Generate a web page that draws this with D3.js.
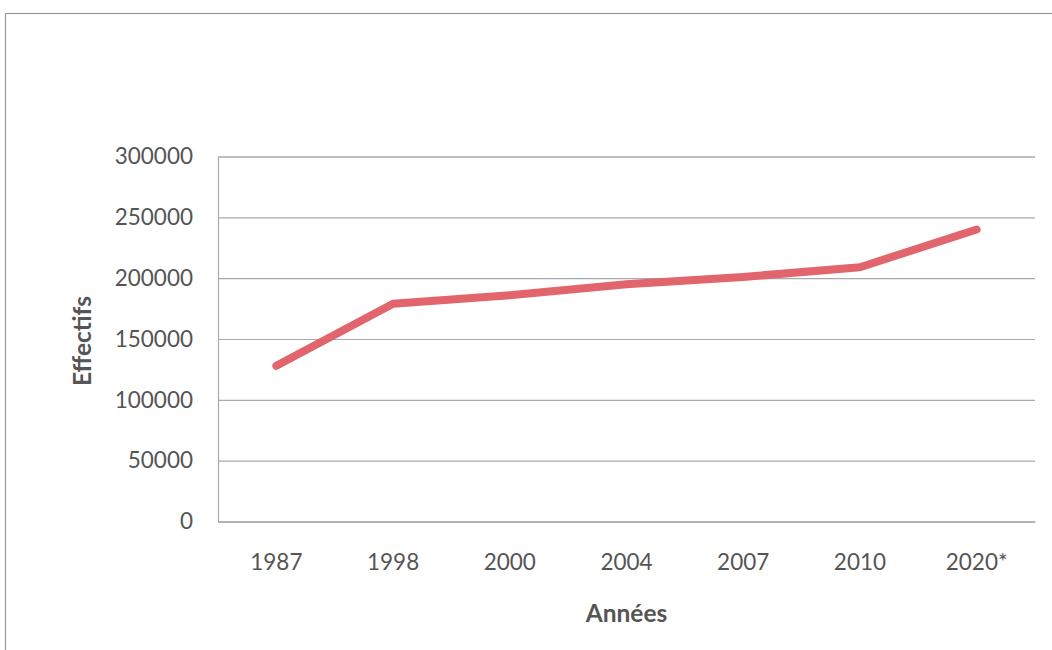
<!DOCTYPE html>
<html>
<head>
<meta charset="utf-8">
<script src="https://cdn.jsdelivr.net/npm/d3@7"></script>
<style>
  html, body { margin: 0; padding: 0; background: #fff; }
  svg { display: block; }
</style>
</head>
<body>
<svg id="chart" width="1052" height="650"></svg>
<script>
// Effectifs par année (2020* = projection)
const years = ["1987", "1998", "2000", "2004", "2007", "2010", "2020*"];
const effectifs = [128000, 179000, 186000, 195000, 201000, 209000, 240000];
const yTicks = [0, 50000, 100000, 150000, 200000, 250000, 300000];

const svg = d3.select("#chart");
const W = 1052, H = 650;
const margin = { left: 218, right: 17, top: 156.5, bottom: 128.5 };
const plotW = W - margin.left - margin.right;
const plotH = H - margin.top - margin.bottom;

const font = "Lato, 'Open Sans', sans-serif";
const textColor = "#555555";
const gridColor = "#a6a9ad";

// outer chart frame
svg.append("rect")
  .attr("x", 5.5).attr("y", 13.5)
  .attr("width", W + 10).attr("height", H + 10)
  .attr("fill", "none")
  .attr("stroke", "#9a9a9a")
  .attr("stroke-width", 1.2);

const g = svg.append("g").attr("transform", `translate(${margin.left},${margin.top})`);

const x = d3.scaleBand().domain(years).range([0, plotW]).padding(0);
const y = d3.scaleLinear().domain([0, 300000]).range([plotH, 0]);

// horizontal gridlines and y labels
const yAxis = d3.axisLeft(y)
  .tickValues(yTicks)
  .tickSize(-plotW)
  .tickPadding(25)
  .tickFormat(d3.format("d"));
const ya = g.append("g").call(yAxis);
ya.select(".domain").attr("stroke", gridColor).attr("stroke-width", 1.2);
ya.selectAll(".tick line").attr("stroke", gridColor).attr("stroke-width", 1.2);
ya.selectAll(".tick text")
  .attr("font-family", font).attr("font-size", 22.5)
  .attr("fill", textColor);

// x axis labels
const xAxis = d3.axisBottom(x).tickSize(0).tickPadding(33);
const xa = g.append("g").attr("transform", `translate(0,${plotH})`).call(xAxis);
xa.select(".domain").attr("stroke", gridColor).attr("stroke-width", 1.2);
xa.selectAll(".tick text")
  .attr("font-family", font).attr("font-size", 22.5)
  .attr("fill", textColor);

// data line
const line = d3.line()
  .x((d, i) => x(years[i]) + x.bandwidth() / 2)
  .y(d => y(d));

g.append("path")
  .datum(effectifs)
  .attr("d", line)
  .attr("fill", "none")
  .attr("stroke", "#e2646c")
  .attr("stroke-width", 8)
  .attr("stroke-linecap", "round")
  .attr("stroke-linejoin", "round");

// axis titles
svg.append("text")
  .attr("x", margin.left + plotW / 2)
  .attr("y", 622)
  .attr("text-anchor", "middle")
  .attr("font-family", font).attr("font-size", 24.5).attr("font-weight", "bold")
  .attr("fill", textColor)
  .text("Années");

svg.append("text")
  .attr("transform", `translate(91,${margin.top + plotH / 2 + 2}) rotate(-90)`)
  .attr("text-anchor", "middle")
  .attr("font-family", font).attr("font-size", 24.5).attr("font-weight", "bold")
  .attr("fill", textColor)
  .text("Effectifs");
</script>
</body>
</html>
